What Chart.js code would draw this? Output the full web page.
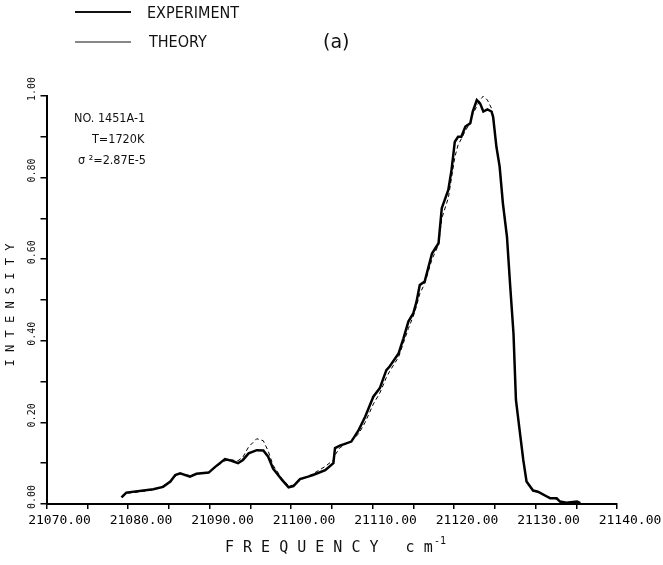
<!DOCTYPE html>
<html>
<head>
<meta charset="utf-8">
<script src="https://cdn.jsdelivr.net/npm/chart.js@4.4.0/dist/chart.umd.min.js"></script>
<style>
  body { margin: 0; background: #fff; }
  #wrap { width: 663px; height: 565px; }
</style>
</head>
<body>
<div id="wrap"><canvas id="specChart" width="663" height="565"></canvas></div>
<script>
// frequency (cm-1)
var freq = [
  21079.2, 21079.8, 21081.9, 21083.1, 21084.3, 21085.2, 21085.8, 21086.4, 21087.6, 21088.4,
  21089.9, 21090.7, 21091.9, 21092.7, 21093.5, 21094.1, 21094.8, 21095.8, 21096.6, 21097.2,
  21097.8, 21098.9, 21099.7, 21100.3, 21101.1, 21102.1, 21102.7, 21104.2, 21105.2, 21105.4,
  21106.0, 21107.4, 21108.3, 21109.1, 21110.1, 21110.9, 21111.7, 21112.1, 21113.2, 21113.8,
  21114.4, 21115.0, 21115.4, 21115.8, 21116.4, 21117.3, 21118.1, 21118.5, 21119.3, 21119.7,
  21120.1, 21120.5, 21120.9, 21121.4, 21122.0, 21122.3, 21122.8, 21123.2, 21123.6, 21124.1,
  21124.6, 21124.8, 21125.2, 21125.6, 21126.0, 21126.5, 21126.9, 21127.3, 21127.6, 21128.1,
  21128.5, 21128.9, 21129.7, 21130.3, 21131.8, 21132.6, 21133.0, 21133.8, 21135.1, 21135.5
];
var experiment = [
  0.016, 0.028, 0.033, 0.036, 0.042, 0.055, 0.071, 0.075, 0.067, 0.074,
  0.077, 0.091, 0.110, 0.106, 0.100, 0.108, 0.124, 0.132, 0.131, 0.116,
  0.087, 0.059, 0.041, 0.044, 0.061, 0.067, 0.071, 0.083, 0.100, 0.137,
  0.143, 0.153, 0.181, 0.214, 0.263, 0.284, 0.328, 0.337, 0.369, 0.406,
  0.447, 0.467, 0.496, 0.537, 0.545, 0.614, 0.639, 0.725, 0.770, 0.819,
  0.888, 0.900, 0.900, 0.925, 0.933, 0.962, 0.990, 0.982, 0.962, 0.967,
  0.962, 0.949, 0.876, 0.827, 0.737, 0.655, 0.533, 0.418, 0.255, 0.173,
  0.108, 0.055, 0.033, 0.030, 0.014, 0.014, 0.006, 0.003, 0.006, 0.002
];
var theory = [
  0.018, 0.026, 0.031, 0.035, 0.044, 0.056, 0.068, 0.074, 0.070, 0.073,
  0.078, 0.090, 0.106, 0.108, 0.106, 0.115, 0.140, 0.160, 0.155, 0.130,
  0.095, 0.062, 0.045, 0.046, 0.058, 0.068, 0.074, 0.092, 0.108, 0.120,
  0.138, 0.155, 0.172, 0.200, 0.245, 0.272, 0.310, 0.325, 0.360, 0.395,
  0.430, 0.460, 0.485, 0.515, 0.540, 0.600, 0.635, 0.700, 0.750, 0.800,
  0.850, 0.880, 0.895, 0.915, 0.935, 0.955, 0.975, 0.990, 1.000, 0.990,
  0.970, 0.950, 0.880, 0.830, 0.740, 0.655, 0.530, 0.415, 0.255, 0.170,
  0.105, 0.055, 0.035, 0.028, 0.016, 0.012, 0.007, 0.004, 0.005, 0.002
];
var yTickLabels = [0, 0.2, 0.4, 0.6, 0.8, 1.0];
var seriesNames = ['EXPERIMENT', 'THEORY'];
var noteLines = ['NO. 1451A-1', 'T=1720K', '\u03C3 \u00B2=2.87E-5'];

function toPoints(ys) {
  var pts = [];
  for (var i = 0; i < freq.length; i++) pts.push({ x: freq[i], y: ys[i] });
  return pts;
}

// text round the plot: legend, note, rotated y labels, axis titles
var paperText = {
  id: 'paperText',
  afterDraw: function(chart) {
    var c = chart.ctx;
    var ys = chart.scales.y;
    c.save();
    c.fillStyle = '#111';
    c.strokeStyle = '#111';

    // legend
    c.lineWidth = 2;
    c.beginPath(); c.moveTo(75, 12); c.lineTo(131, 12); c.stroke();
    c.lineWidth = 1;
    c.beginPath(); c.moveTo(75, 42); c.lineTo(131, 42); c.stroke();
    c.font = '16px "DejaVu Sans Condensed", "DejaVu Sans"';
    c.textBaseline = 'middle';
    c.textAlign = 'left';
    c.fillText(seriesNames[0], 147, 14);
    c.fillText(seriesNames[1], 149, 43);
    c.font = '19px "DejaVu Sans"';
    c.fillText('(a)', 323, 43);

    // sample note
    c.font = '12.5px "DejaVu Sans Condensed", "DejaVu Sans"';
    c.fillText(noteLines[0], 74, 119);
    c.fillText(noteLines[1], 92, 140);
    c.fillText(noteLines[2], 78, 161);

    // y tick labels, reading upward
    c.font = '10px "DejaVu Sans Mono"';
    yTickLabels.forEach(function(v) {
      var py = ys.getPixelForValue(v);
      c.save();
      c.translate(32, py + 5);
      c.rotate(-Math.PI / 2);
      c.textAlign = 'left';
      c.textBaseline = 'middle';
      c.fillText(v.toFixed(2), 0, 0);
      c.restore();
    });

    // y title
    c.save();
    c.font = '12px "DejaVu Sans Mono"';
    c.translate(11, 305);
    c.rotate(-Math.PI / 2);
    c.textAlign = 'center';
    c.fillText('I N T E N S I T Y', 0, 0);
    c.restore();

    // x title
    c.font = '15px "DejaVu Sans Mono"';
    c.textAlign = 'left';
    c.fillText('F R E Q U E N C Y   c m', 225, 548);
    c.font = '10px "DejaVu Sans Mono"';
    c.fillText('-1', 434, 541);
    c.restore();
  }
};

var ctx = document.getElementById('specChart').getContext('2d');
var specChart = new Chart(ctx, {
  type: 'line',
  data: {
    datasets: [{
      label: seriesNames[0],
      data: toPoints(experiment),
      borderColor: '#000',
      borderWidth: 2.5,
      pointRadius: 0,
      fill: false,
      tension: 0
    }, {
      label: seriesNames[1],
      data: toPoints(theory),
      borderColor: '#000',
      borderWidth: 1,
      borderDash: [4, 3],
      pointRadius: 0,
      fill: false,
      tension: 0
    }]
  },
  options: {
    responsive: false,
    animation: false,
    layout: { padding: { left: 0, right: 46, top: 96, bottom: 0 } },
    plugins: {
      legend: { display: false },
      tooltip: { enabled: false }
    },
    scales: {
      x: {
        type: 'linear',
        min: 21070, max: 21140,
        afterFit: function(s) { s.height = 61; },
        border: { display: true, color: '#000', width: 2 },
        grid: { drawOnChartArea: false, color: '#000', lineWidth: 1.5, tickLength: 5 },
        ticks: {
          stepSize: 5,
          autoSkip: false,
          maxRotation: 0,
          padding: 4,
          labelOffset: 13,
          color: '#000',
          font: { family: 'DejaVu Sans Mono', size: 13 },
          callback: function(v) { return v % 10 === 0 ? v.toFixed(2) : ''; }
        }
      },
      y: {
        min: 0, max: 1.0,
        afterFit: function(s) { s.width = 46.5; },
        border: { display: true, color: '#000', width: 2 },
        grid: { drawOnChartArea: false, color: '#000', lineWidth: 1.5, tickLength: 6 },
        ticks: {
          stepSize: 0.1,
          autoSkip: false,
          callback: function() { return ''; }
        }
      }
    }
  },
  plugins: [paperText]
});
</script>
</body>
</html>
